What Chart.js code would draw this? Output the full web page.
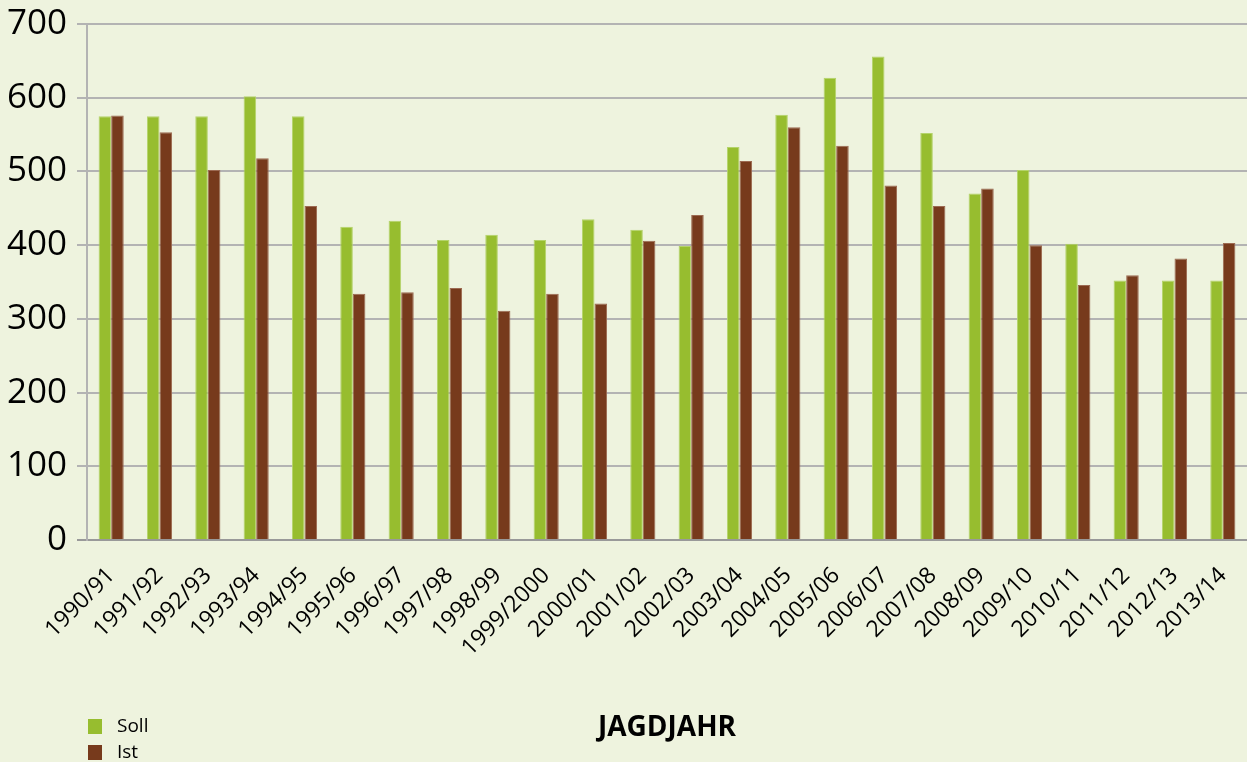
<!DOCTYPE html>
<html>
<head>
<meta charset="utf-8">
<script src="https://cdn.jsdelivr.net/npm/chart.js@4"></script>
<style>
  body { margin: 0; background: #eef3de; font-family: "Open Sans", sans-serif; }
  #wrap { position: relative; width: 1247px; height: 762px; }
  .legend { position: absolute; left: 88px; font-size: 19px; color: #000; }
  .legend span { display: inline-block; width: 14px; height: 15px; margin-right: 15px; vertical-align: -2px; }
</style>
</head>
<body>
<div id="wrap">
  <canvas id="jagdChart"></canvas>
  <div class="legend" style="top:712px"><span style="background:#97bd2f"></span>Soll</div>
  <div class="legend" style="top:738px"><span style="background:#773a1c"></span>Ist</div>
</div>
<script>
// Jagdjahre
const jahre = ['1990/91', '1991/92', '1992/93', '1993/94', '1994/95', '1995/96', '1996/97', '1997/98',
  '1998/99', '1999/2000', '2000/01', '2001/02', '2002/03', '2003/04', '2004/05', '2005/06',
  '2006/07', '2007/08', '2008/09', '2009/10', '2010/11', '2011/12', '2012/13', '2013/14'];

// Abschuss Soll / Ist
const soll = [575, 575, 575, 602, 575, 425, 433, 407, 414, 407, 435, 421,
  399, 533, 577, 627, 656, 552, 470, 502, 402, 352, 352, 352];
const ist = [576, 553, 502, 518, 453, 334, 336, 342, 311, 334, 321, 406,
  441, 514, 560, 535, 481, 453, 477, 400, 346, 359, 382, 403];

const yTicks = [0, 100, 200, 300, 400, 500, 600, 700];

var ctx = document.getElementById('jagdChart').getContext('2d');
new Chart(ctx, {
  type: 'bar',
  data: {
    labels: jahre,
    datasets: [{
      label: 'Soll',
      data: soll,
      backgroundColor: '#97bd2f',
      borderColor: '#b4d36a',
      borderWidth: 1,
      categoryPercentage: 0.52,
      barPercentage: 1
    }, {
      label: 'Ist',
      data: ist,
      backgroundColor: '#773a1c',
      borderColor: '#9c6a52',
      borderWidth: 1,
      categoryPercentage: 0.52,
      barPercentage: 1
    }]
  },
  options: {
    responsive: true,
    maintainAspectRatio: false,
    animation: false,
    layout: { padding: { top: 24, right: 0, left: 0, bottom: 0 } },
    plugins: {
      legend: { display: false },
      tooltip: { enabled: false }
    },
    scales: {
      x: {
        grid: { display: false, drawTicks: false },
        border: { display: false },
        ticks: {
          autoSkip: false,
          minRotation: 45,
          maxRotation: 45,
          padding: 22,
          color: '#000',
          font: { family: 'Open Sans', size: 23 }
        },
        title: {
          display: true,
          text: 'JAGDJAHR',
          color: '#000',
          padding: { top: 0, bottom: 17 },
          font: { family: 'Open Sans', size: 28, weight: 'bold' }
        },
        afterFit: function(scale) {
          scale.height = 222;
          scale.paddingLeft = 0;
          scale.paddingRight = 0;
        }
      },
      y: {
        min: 0,
        max: 700,
        border: { color: '#b3b3b3', width: 2 },
        grid: {
          lineWidth: 2,
          tickLength: 10,
          color: function(c) { return c.tick && c.tick.value === 0 ? '#999999' : '#b3b3b3'; }
        },
        ticks: {
          stepSize: 50,
          padding: 10,
          color: '#000',
          font: { family: 'Open Sans', size: 35 },
          callback: function(v) { return yTicks.includes(v) ? v : ''; }
        },
        afterFit: function(scale) {
          scale.width = 87;
          scale.paddingTop = 0;
          scale.paddingBottom = 0;
        }
      }
    }
  }
});
</script>
</body>
</html>
